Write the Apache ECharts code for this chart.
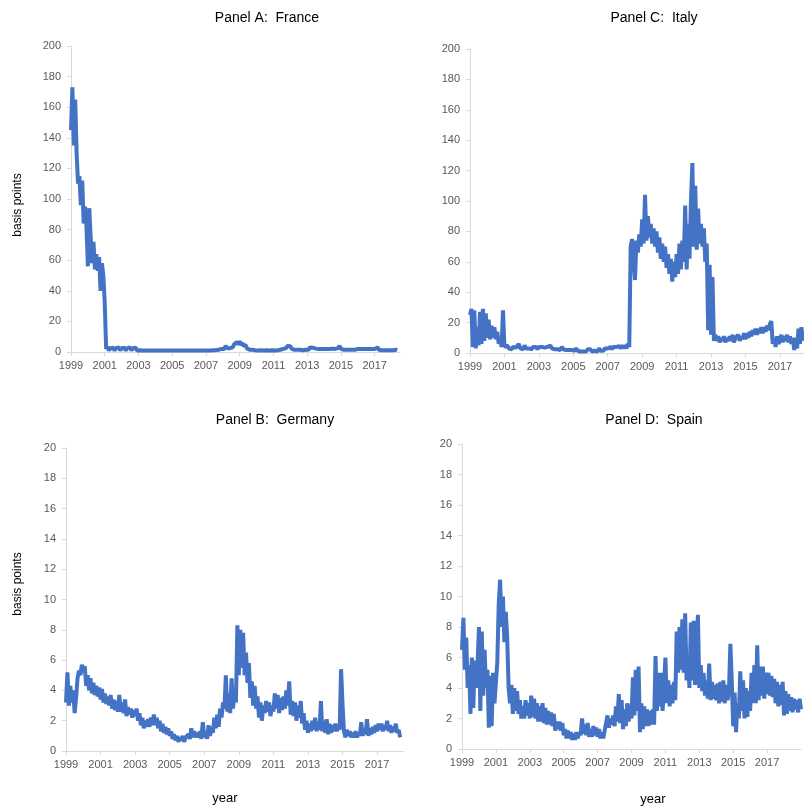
<!DOCTYPE html>
<html><head><meta charset="utf-8">
<script src="https://cdn.jsdelivr.net/npm/echarts@6/dist/echarts.min.js"></script>
<style>html,body{margin:0;padding:0;background:#fff}#c{width:804px;height:807px}</style>
</head><body><div id="c"></div>
<script>
// Monthly observations starting January 1999 (basis points)
const startYear = 1999;
const yearTicks = [1999, 2001, 2003, 2005, 2007, 2009, 2011, 2013, 2015, 2017];
const titles = ["Panel A:  France", "Panel C:  Italy", "Panel B:  Germany", "Panel D:  Spain"];

const france = [
 145,173,135,165,130,110,115,96,112,84,95,82,
 56,94,75,58,72,54,64,53,62,40,58,50,
 32,2,3.5,1,2.5,1.2,2.8,1,2.5,1.5,3,1,
 2.5,1.2,2.8,1,2.5,1.5,3,1,2.5,1.2,2.8,1,
 2,1.2,2.5,1,1.5,1,1.5,1,1.5,1,1.5,1,
 1.5,1,1.5,1,1.5,1,1.5,1,1.5,1,1.5,1,
 1.5,1,1.5,1,1.5,1,1.5,1,1.5,1,1.5,1,
 1.5,1,1.5,1,1.5,1,1.5,1,1.5,1,1.5,1,
 1.5,1,1.5,1,1.5,1.2,2,1.2,2.2,1.5,2.5,2,
 3,2,4,2.5,3.5,2.5,3.5,3,5,4,6.5,5,
 7,4.5,6,3.5,5,2.5,3.5,1.5,2.5,1.5,2.5,1.2,
 2.2,1,2,1.2,2.5,1,2,1.2,2.2,1,2,1.2,
 2.2,1,2,1.2,2,1.5,2.5,2,3,2.5,4,3,
 3.8,2,3,1.5,2.5,1.5,2.2,1.5,2.2,1.2,2,1.5,
 2.2,1.5,3,2,2.8,1.5,2.2,1.2,2,1.2,2,1.2,
 2,1.2,2,1.2,2,1.2,2.2,1.2,2,1.5,2.5,4,
 2,1,1.5,1,1.5,1,1.5,1,1.5,1,1.5,1,
 2,1.2,2,1.2,2,1.2,2,1.2,2,1.2,2,1.2,
 2,1.2,3,1.5,2.2,1.2,2,1.2,2,1.2,2,1.2,
 2,1.2,2,1.5,1.2
];

const italy = [
 25,29,4,28,3,17,5,27,6,29,8,26,
 10,22,9,18,10,17,9,14,6,9,4,28,
 4,3,5,3,4,2.5,4,3,3.5,2.5,6,3,
 4,2.5,5,3,4,3,4,2.5,4,3,4,2.5,
 4,3,4,3,3.5,2.5,4,3,5,3,4,2.5,
 3,2.5,3.5,2,4,2.5,3,2,3,2,3,2,
 2.5,1.5,3,1.5,2.5,1,2,1,2,1,2.5,1.5,
 2.5,1,2,1.5,2.5,1,3,1.5,2.5,1.5,3,2,
 3,2,4,2.5,4,3,4,3,4.5,3,5,3,
 5,3,6,4,70,75,62,48,74,66,78,70,
 88,72,104,74,90,76,85,72,82,70,80,66,
 76,62,72,60,70,56,65,52,62,47,60,50,
 65,52,72,55,74,60,97,55,85,62,100,125,
 70,110,68,95,72,85,70,82,60,72,15,58,
 12,50,8,12,8,11,7,10,8,11,7,10,
 8,11,8,12,7,10,9,12,8,11,9,13,
 9,13,10,14,11,15,12,16,12,16,13,17,
 13,17,14,18,15,19,21,6,10,4,11,6,
 8,12,7,11,8,12,7,11,6,10,2,10,
 3,16,6,17,8
];

const germany = [
 3.2,5.2,3,4.3,3.2,4,2.5,3.5,4.8,5.3,5,5.7,
 5.2,5.6,4.3,5,4,4.8,3.8,4.5,3.7,4.3,3.6,4.2,
 3.4,4.1,3.2,3.8,3.1,3.6,3,3.7,2.8,3.4,2.7,3.3,
 2.6,3.7,2.6,3.2,2.5,3.4,2.3,2.9,2.4,2.8,2.2,2.7,
 2.3,2.8,2,2.5,1.7,2.2,1.5,2,1.6,2.1,1.6,2.2,
 1.7,2.4,1.7,2.2,1.5,2,1.3,1.8,1.2,1.6,1.1,1.5,
 1,1.3,0.8,1.1,0.7,1,0.6,0.9,0.7,1,0.6,0.9,
 0.8,1.1,0.8,1.5,0.9,1.3,0.9,1.2,0.9,1.3,0.8,1.9,
 0.9,1.3,0.8,1.7,1,1.6,1.2,2.2,1.5,2.4,1.6,2.8,
 2.2,3.2,2.8,5,2.6,3.8,2.5,4.8,2.8,4,3.2,8.3,
 5,8,5.5,7.8,5,6.5,4.5,5.8,3.5,4.6,3,4.3,
 2.8,3.6,2.2,3.2,2,3,2.5,3.3,2.6,3.2,2.3,3,
 2.6,3.8,2.8,3.7,2.5,3.5,2.7,3.6,2.8,4,3,4.6,
 2.4,3.3,2.3,3.2,2,3,2.2,3.3,1.8,2.5,1.4,2,
 1.2,1.8,1.3,2,1.4,2.2,1.3,1.9,1.4,3.3,1.3,2,
 1.2,2.1,1.1,1.8,1.2,1.7,1.3,1.8,1.3,1.7,1.4,5.4,
 3.1,1.3,0.9,1.4,1,1.3,0.9,1.2,0.9,1.3,0.9,1.2,
 1,1.9,1,1.4,1.1,2.1,1,1.5,1.1,1.6,1.2,1.7,
 1.3,1.8,1.4,1.8,1.3,1.7,1.4,2,1.3,1.7,1.2,1.6,
 1.3,1.8,1.2,1.4,0.9
];

const spain = [
 6.5,8.6,5.2,7.3,4,5.5,2.3,6,2.7,5.8,4,5.5,
 8,2.5,7.7,3.5,6.5,4,5.2,1.4,4.8,1.5,5,3,
 3,5.7,9.5,11.1,8,10,7,9,7.3,4,3,4.2,
 2.3,4,2.5,3.8,2.3,3.2,2,2.8,2,3.2,2.2,3,
 2,3.5,2.1,3.3,2,3,1.8,2.8,1.8,3,1.7,2.7,
 1.6,2.5,1.6,2.4,1.5,2.3,1.2,1.8,1.3,1.8,1.2,1.7,
 0.9,1.3,0.7,1.2,0.7,1.1,0.6,1,0.6,1.1,0.7,1.1,
 0.9,2,1,1.6,0.9,1.7,0.8,1.3,0.8,1.5,0.9,1.4,
 0.8,1.3,0.7,1.1,0.7,1.2,1.3,2.2,1.4,2,1.6,2.2,
 1.5,2.8,1.8,3.6,1.7,3.2,1.3,2.6,1.5,3,1.8,2.9,
 2,4.7,2.2,5.2,2.5,5.4,1.1,3,1.3,2.8,1.5,2.6,
 1.5,2.5,1.6,2.6,1.6,6.1,2.5,5,2.8,5,2.5,4,
 6,3,4.5,2.8,4.2,3,4.4,3.2,7.7,5,8,5.2,
 8.5,5,8.9,4.5,6,4,8.3,4.5,8.4,4.2,5.8,8.8,
 4,5.5,3.8,5,3.5,4.5,3.3,5.6,3.2,4.4,3.3,4.2,
 3.2,4.3,3,4.4,3.1,4.5,3,4.2,3.2,3.8,6.9,4.4,
 1.5,3.7,1.1,3,2,5.1,2.5,4.5,2,4,2.1,3.8,
 2.5,5,3,5.5,3,6.8,3.2,5.4,3.5,5.4,3.3,5,
 3.6,5,3.5,4.8,3.4,4.6,3,4.4,2.8,4.2,2.9,4.4,
 2.2,3.8,2.3,3.6,2.5,3.4,2.4,3.3,2.6,3.2,2.4,3.3,
 2.6
];

const toPairs = arr => arr.map((v, i) => [startYear + i / 12, v]);

const FONT = "'Liberation Sans', Arial, sans-serif";
const AXIS_COLOR = '#d9d9d9';
const LABEL_COLOR = '#595959';

const grids = [
  {left: 71, top: 46, width: 329, height: 306},
  {left: 470, top: 49, width: 334, height: 304},
  {left: 66, top: 448, width: 337, height: 303},
  {left: 462, top: 444, width: 339, height: 305}
];
const xMax = [2018.5, 2018.4, 2018.5, 2019];
const yMax = [200, 200, 20, 20];
const yInt = [20, 20, 2, 2];
const seriesData = [france, italy, germany, spain];

function textEl(x, y, text, size, rot) {
  return {type: 'text', x: x, y: y, rotation: rot || 0,
    style: {text: text, font: size + 'px ' + FONT, fill: '#000', textAlign: 'center', textVerticalAlign: 'middle'}};
}

const option = {
  animation: false,
  backgroundColor: '#fff',
  grid: grids,
  xAxis: grids.map((g, i) => ({
    type: 'value', gridIndex: i, min: 1999, max: xMax[i], interval: 2,
    axisLine: {show: true, lineStyle: {color: AXIS_COLOR, width: 1}},
    axisTick: {show: true, length: 4, lineStyle: {color: AXIS_COLOR}},
    splitLine: {show: false},
    axisLabel: {
      showMaxLabel: false, fontSize: 11, color: LABEL_COLOR, fontFamily: FONT, margin: 8,
      formatter: v => (yearTicks.indexOf(Math.round(v)) >= 0 ? String(Math.round(v)) : '')
    }
  })),
  yAxis: grids.map((g, i) => ({
    type: 'value', gridIndex: i, min: 0, max: yMax[i], interval: yInt[i],
    axisLine: {show: true, lineStyle: {color: AXIS_COLOR, width: 1}},
    axisTick: {show: true, length: 4, lineStyle: {color: AXIS_COLOR}},
    splitLine: {show: false},
    axisLabel: {fontSize: 11, color: LABEL_COLOR, fontFamily: FONT, margin: 10}
  })),
  series: seriesData.map((d, i) => ({
    type: 'line', xAxisIndex: i, yAxisIndex: i, data: toPairs(d),
    showSymbol: false, symbol: 'none', clip: true,
    lineStyle: {color: '#4472C4', width: 4, join: 'bevel'},
    itemStyle: {color: '#4472C4'}
  })),
  graphic: [
    textEl(267, 18, titles[0], 14),
    textEl(654, 18, titles[1], 14),
    textEl(275, 420, titles[2], 14),
    textEl(654, 420, titles[3], 14),
    textEl(18, 205, 'basis points', 12, Math.PI / 2),
    textEl(18, 584, 'basis points', 12, Math.PI / 2),
    textEl(225, 798, 'year', 13),
    textEl(653, 799, 'year', 13)
  ]
};

const chart = echarts.init(document.getElementById('c'), null, {renderer: 'canvas'});
chart.setOption(option);
</script>
</body></html>
